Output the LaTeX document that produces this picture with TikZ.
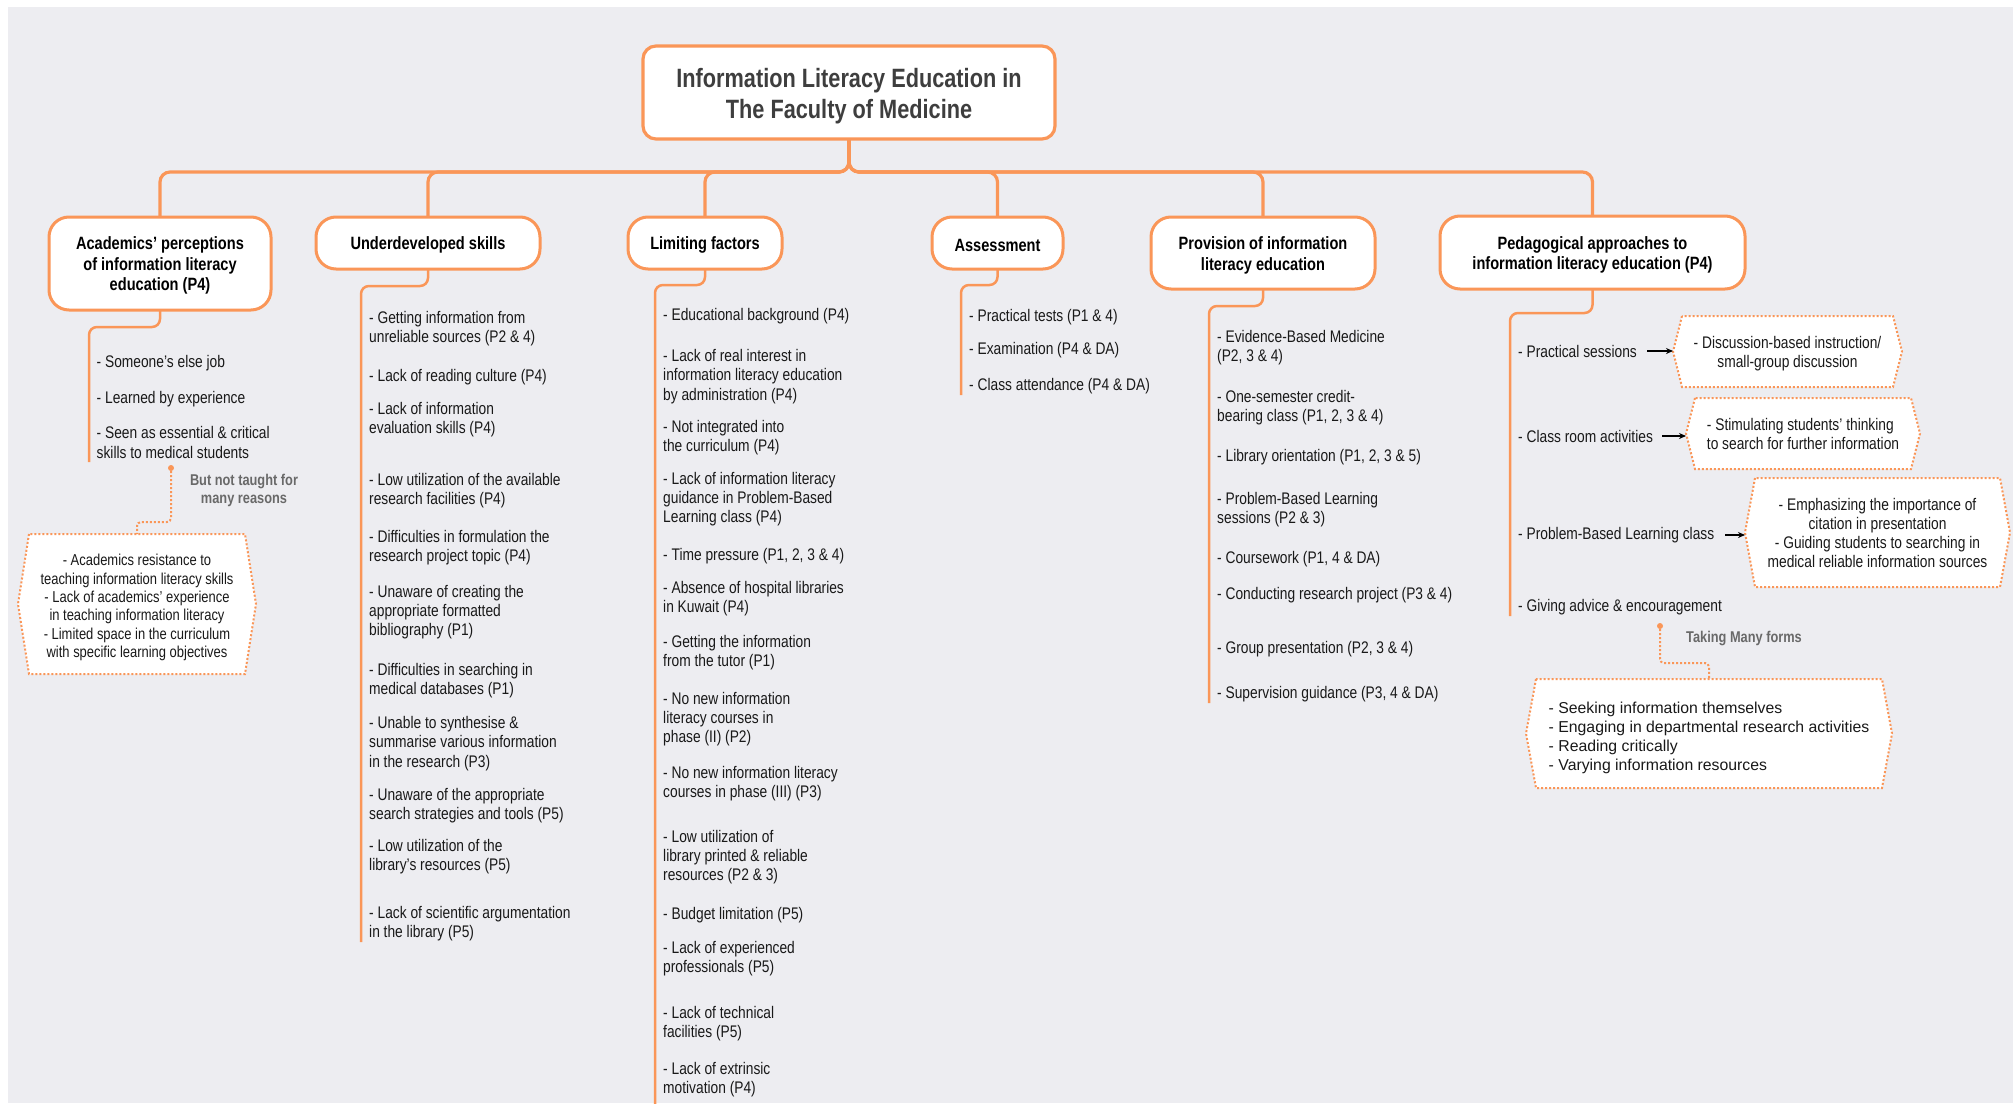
\documentclass[tikz,border=0pt]{standalone}
\usepackage{fontspec}
\setmainfont{Liberation Sans}[FakeStretch=0.82]
\newfontfamily\widesans{Liberation Sans}
\usetikzlibrary{arrows.meta}

\definecolor{mapline}{RGB}{250,150,88}
\definecolor{canvas}{RGB}{237,237,241}
\definecolor{titleink}{RGB}{62,62,62}
\definecolor{noteink}{RGB}{105,105,105}
\definecolor{bodyink}{RGB}{25,25,25}

\pgfdeclarelayer{backdrop}
\pgfdeclarelayer{panels}
\pgfsetlayers{backdrop,panels,main}

\newcommand\fs[2]{\fontsize{#1}{#2}\selectfont}
% invisible strut that sets the height of a first line
\newcommand\lift[1]{\rule{0pt}{#1pt}}
% dotted hexagonal frame around a named node: #1 node, #2 inset of the side points
\newcommand\hexframe[2]{%
  \begin{pgfonlayer}{panels}
    \path[hexline] ([xshift=#2pt]#1.north west) -- (#1.west) -- ([xshift=#2pt]#1.south west)
      -- ([xshift=-#2pt]#1.south east) -- (#1.east) -- ([xshift=-#2pt]#1.north east) -- cycle;
  \end{pgfonlayer}}

\begin{document}
\begin{tikzpicture}[x=1pt, y=-1pt,
  rootbox/.style={draw=mapline, line width=3.2pt, fill=white, rounded corners=13pt,
    minimum width=412pt, minimum height=93pt, inner sep=0pt, outer sep=0pt, align=center,
    font=\bfseries\fs{26.5}{30.8}, text=titleink},
  catbox/.style={draw=mapline, line width=3pt, fill=white, rounded corners=20pt,
    inner sep=0pt, outer sep=0pt, align=center, font=\bfseries\fs{17.8}{20.5}, text=black},
  item/.style={anchor=west, align=left, inner sep=0pt, yshift=-0.5pt, font=\fs{16.8}{19.2}, text=bodyink},
  trunk/.style={draw=mapline, line width=3.2pt, rounded corners=10pt},
  stem/.style={draw=mapline, line width=2.5pt, rounded corners=8pt},
  dotline/.style={draw=mapline, line width=2pt, dash pattern=on 2pt off 2pt, rounded corners=4pt},
  hexline/.style={draw=mapline, line width=2pt, dash pattern=on 2pt off 2pt, fill=white},
  hextext/.style={inner sep=0pt, outer sep=0pt, align=center, font=\fs{16.8}{19}, text=bodyink},
  note/.style={font=\bfseries\fs{15.6}{18}, text=noteink, align=center, inner sep=0pt},
  knot/.style={circle, fill=mapline, minimum size=6pt, inner sep=0pt},
  pointer/.style={-{Stealth[length=7pt,width=6pt]}, line width=1.3pt, draw=black}]

\useasboundingbox (0,0) rectangle (2013,1103);
\begin{pgfonlayer}{backdrop}
  \fill[white] (0,0) rectangle (2013,1103);
  \fill[canvas] (8,7) rectangle (2013,1103);
\end{pgfonlayer}

% root and main categories
\node[rootbox] (root) at (849,92.5) {\lift{26}Information Literacy Education in\\The Faculty of Medicine};
\node[catbox, minimum width=222pt, minimum height=93pt] (acad) at (160,263.5)
  {\lift{17.5}Academics' perceptions\\of information literacy\\education (P4)};
\node[catbox, minimum width=224pt, minimum height=52pt] (ud) at (428,243) {\lift{17.5}Underdeveloped skills};
\node[catbox, minimum width=154pt, minimum height=52pt] (lf) at (705,243) {\lift{17.5}Limiting factors};
\node[catbox, minimum width=131pt, minimum height=52pt] (as) at (997.5,243) {\lift{17.5}Assessment};
\node[catbox, minimum width=224pt, minimum height=72pt] (pv) at (1263,253)
  {\lift{17.5}Provision of information\\literacy education};
\node[catbox, minimum width=305pt, minimum height=73pt] (pa) at (1592.5,252.5)
  {\lift{17.5}Pedagogical approaches to\\information literacy education (P4)};

% trunk
\coordinate (hub) at (849,172);
\foreach \c in {acad,ud,lf,as,pv,pa}
  \draw[trunk] (root.south) -- (hub) -| (\c.north);

% list stems
\coordinate (acadEnd) at (89,462);
\coordinate (udEnd) at (361,942);
\coordinate (lfEnd) at (655,1106);
\coordinate (asEnd) at (961,395);
\coordinate (pvEnd) at (1209,703);
\coordinate (paEnd) at (1510,616);
\draw[stem] (acad.south) -- ++(0,17) -| (acadEnd);
\draw[stem] (ud.south) -- ++(0,17) -| (udEnd);
\draw[stem] (lf.south) -- ++(0,16) -| (lfEnd);
\draw[stem] (as.south) -- ++(0,16) -| (asEnd);
\draw[stem] (pv.south) -- ++(0,17) -| (pvEnd);
\draw[stem] (pa.south) -- ++(0,24) -| (paEnd);

% academics' perceptions
\node[item] (ac1) at (96.5,362.5) {- Someone's else job};
\node[item] (ac2) at (96.5,398.5) {- Learned by experience};
\node[item] (ac3) at (96.5,442) {- Seen as essential \& critical\\skills to medical students};

\node[knot] (dA) at (171,468) {};
\node[note] (nA) at (244,490) {But not taught for\\many reasons};
\node[hextext, font=\fs{15.8}{18.4}, minimum width=238pt, minimum height=140pt] (hxA) at (137,604)
  {\lift{18.5}- Academics resistance to\\teaching information literacy skills\\- Lack of academics' experience\\in teaching information literacy\\- Limited space in the curriculum\\with specific learning objectives};
\hexframe{hxA}{11}
\coordinate (kA) at (171,522);
\draw[dotline] (dA) -- (kA) -| (hxA.north);

% underdeveloped skills
\node[item] (ud1) at (369,328) {- Getting information from\\unreliable sources (P2 \& 4)};
\node[item] (ud2) at (369,376.5) {- Lack of reading culture (P4)};
\node[item] (ud3) at (369,419.5) {- Lack of information\\evaluation skills (P4)};
\node[item] (ud4) at (369,490) {- Low utilization of the available\\research facilities (P4)};
\node[item] (ud5) at (369,547.5) {- Difficulties in formulation the\\research project topic (P4)};
\node[item] (ud6) at (369,611.5) {- Unaware of creating the\\appropriate formatted\\bibliography (P1)};
\node[item] (ud7) at (369,680) {- Difficulties in searching in\\medical databases (P1)};
\node[item] (ud8) at (369,743) {- Unable to synthesise \&\\summarise various information\\in the research (P3)};
\node[item] (ud9) at (369,805) {- Unaware of the appropriate\\search strategies and tools (P5)};
\node[item] (ud10) at (369,856) {- Low utilization of the\\library's resources (P5)};
\node[item] (ud11) at (369,923) {- Lack of scientific argumentation\\in the library (P5)};

% limiting factors
\node[item] (lf1) at (663,315.5) {- Educational background (P4)};
\node[item] (lf2) at (663,376) {- Lack of real interest in\\information literacy education\\by administration (P4)};
\node[item] (lf3) at (663,437) {- Not integrated into\\the curriculum (P4)};
\node[item] (lf4) at (663,498.5) {- Lack of information literacy\\guidance in Problem-Based\\Learning class (P4)};
\node[item] (lf5) at (663,555.5) {- Time pressure (P1, 2, 3 \& 4)};
\node[item] (lf6) at (663,598) {- Absence of hospital libraries\\in Kuwait (P4)};
\node[item] (lf7) at (663,652) {- Getting the information\\from the tutor (P1)};
\node[item] (lf8) at (663,718.5) {- No new information\\literacy courses in\\phase (II) (P2)};
\node[item] (lf9) at (663,783.5) {- No new information literacy\\courses in phase (III) (P3)};
\node[item] (lf10) at (663,856.5) {- Low utilization of\\library printed \& reliable\\resources (P2 \& 3)};
\node[item] (lf11) at (663,914.5) {- Budget limitation (P5)};
\node[item] (lf12) at (663,958) {- Lack of experienced\\professionals (P5)};
\node[item] (lf13) at (663,1023) {- Lack of technical\\facilities (P5)};
\node[item] (lf14) at (663,1079.5) {- Lack of extrinsic\\motivation (P4)};

% assessment
\node[item] (as1) at (969,316.5) {- Practical tests (P1 \& 4)};
\node[item] (as2) at (969,349.5) {- Examination (P4 \& DA)};
\node[item] (as3) at (969,385.5) {- Class attendance (P4 \& DA)};

% provision
\node[item] (pv1) at (1217,347) {- Evidence-Based Medicine\\(P2, 3 \& 4)};
\node[item] (pv2) at (1217,407) {- One-semester credit-\\bearing class (P1, 2, 3 \& 4)};
\node[item] (pv3) at (1217,456.5) {- Library orientation (P1, 2, 3 \& 5)};
\node[item] (pv4) at (1217,509) {- Problem-Based Learning\\sessions (P2 \& 3)};
\node[item] (pv5) at (1217,558.5) {- Coursework (P1, 4 \& DA)};
\node[item] (pv6) at (1217,594.5) {- Conducting research project (P3 \& 4)};
\node[item] (pv7) at (1217,648.5) {- Group presentation (P2, 3 \& 4)};
\node[item] (pv8) at (1217,693.5) {- Supervision guidance (P3, 4 \& DA)};

% pedagogical approaches
\node[item] (pa1) at (1518,350.5) {- Practical sessions};
\node[item] (pa2) at (1518,435.5) {- Class room activities};
\node[item] (pa3) at (1518,534.5) {- Problem-Based Learning class};
\node[item] (pa4) at (1518,606.5) {- Giving advice \& encouragement};

\node[hextext, minimum width=229pt, minimum height=71pt] (hx1) at (1787.5,351.5)
  {\lift{17.3}- Discussion-based instruction/\\small-group discussion};
\node[hextext, align=left, minimum width=234pt, minimum height=71pt] (hx2) at (1803,433.5)
  {- Stimulating students' thinking\\to search for further information};
\node[hextext, minimum width=265pt, minimum height=109pt] (hx3) at (1877.5,532.5)
  {\lift{14}- Emphasizing the importance of\\citation in presentation\\- Guiding students to searching in\\medical reliable information sources};
\hexframe{hx1}{9}
\hexframe{hx2}{9}
\hexframe{hx3}{10}

\draw[pointer] ([xshift=10pt]pa1.east) -- (pa1.east -| hx1.west);
\draw[pointer] ([xshift=9pt]pa2.east) -- (pa2.east -| hx2.west);
\draw[pointer] ([xshift=11pt]pa3.east) -- (pa3.east -| hx3.west);

\node[knot] (dB) at (1660,626) {};
\node[note] (nB) at (1744,638) {Taking Many forms};
\node[hextext, font=\widesans\fs{15.8}{19.2}, align=left, minimum width=366pt, minimum height=109pt] (hxB) at (1709,733.5)
  {\lift{20.5}- Seeking information themselves\\- Engaging in departmental research activities\\- Reading critically\\- Varying information resources};
\hexframe{hxB}{10}
\coordinate (kB) at (1660,663);
\draw[dotline] (dB) -- (kB) -| (hxB.north);

\end{tikzpicture}
\end{document}
